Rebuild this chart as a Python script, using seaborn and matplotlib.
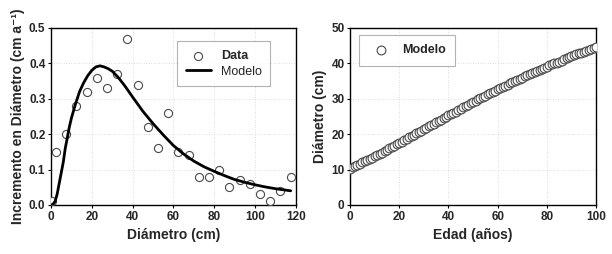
import matplotlib
matplotlib.use("Agg")
import matplotlib.pyplot as plt
import seaborn as sns
import pandas as pd

# ---- Data (left panel) ----
data_x = [0.5, 2.5, 7.5, 12.5, 17.5, 22.5, 27.5, 32.5, 37.5, 42.5, 47.5, 52.5, 57.5,
          62.5, 67.5, 72.5, 77.5, 82.5, 87.5, 92.5, 97.5, 102.5, 107.5, 112.5, 117.5]
data_y = [0.01, 0.15, 0.20, 0.28, 0.32, 0.36, 0.33, 0.37, 0.47, 0.34, 0.22, 0.16, 0.26,
          0.15, 0.14, 0.08, 0.08, 0.10, 0.05, 0.07, 0.06, 0.03, 0.01, 0.04, 0.08]

model_x = [0, 1, 2, 3, 4, 5, 6, 7, 8, 9, 10, 12, 14, 16, 18, 20, 22, 24, 26, 28, 30, 33, 36,
           40, 45, 50, 55, 60, 65, 70, 75, 80, 85, 90, 95, 100, 105, 110, 115, 117.5]
model_y = [0.0, 0.002, 0.01, 0.03, 0.06, 0.09, 0.12, 0.16, 0.19, 0.22, 0.245, 0.285, 0.32,
           0.345, 0.365, 0.38, 0.39, 0.393, 0.39, 0.385, 0.378, 0.36, 0.338, 0.305, 0.265,
           0.23, 0.198, 0.168, 0.144, 0.124, 0.108, 0.095, 0.083, 0.072, 0.064, 0.057,
           0.051, 0.046, 0.042, 0.040]

# ---- Data (right panel) ----
edad = list(range(0, 101))
diametro = [10.3, 10.6, 11.0, 11.3, 11.7, 12.0, 12.3, 12.7, 13.0, 13.4, 13.7,
            14.1, 14.5, 14.8, 15.2, 15.6, 16.0, 16.4, 16.7, 17.1, 17.5,
            17.9, 18.3, 18.7, 19.1, 19.5, 19.9, 20.2, 20.6, 21.0, 21.4,
            21.8, 22.2, 22.6, 23.0, 23.4, 23.8, 24.1, 24.5, 24.9, 25.3,
            25.7, 26.1, 26.4, 26.8, 27.2, 27.6, 28.0, 28.3, 28.7, 29.1,
            29.5, 29.8, 30.2, 30.5, 30.9, 31.3, 31.6, 32.0, 32.3, 32.7,
            33.0, 33.4, 33.7, 34.0, 34.4, 34.7, 35.0, 35.3, 35.7, 36.0,
            36.3, 36.6, 36.9, 37.2, 37.5, 37.9, 38.2, 38.5, 38.8, 39.1,
            39.4, 39.7, 40.0, 40.2, 40.5, 40.8, 41.1, 41.4, 41.7, 42.0,
            42.3, 42.5, 42.8, 43.0, 43.3, 43.5, 43.8, 44.0, 44.3, 44.5]

left_xticks = [0, 20, 40, 60, 80, 100, 120]
left_yticks = [0.0, 0.1, 0.2, 0.3, 0.4, 0.5]
right_xticks = [0, 20, 40, 60, 80, 100]
right_yticks = [0, 10, 20, 30, 40, 50]

sns.set_theme(style="white")
plt.rcParams['font.family'] = ['Liberation Sans', 'DejaVu Sans']

fig = plt.figure(figsize=(6.12, 2.54), dpi=100)
ax1 = fig.add_axes([0.0833, 0.193, 0.400, 0.697])
ax2 = fig.add_axes([0.572, 0.193, 0.402, 0.697])

df_data = pd.DataFrame({"x": data_x, "y": data_y})
df_model = pd.DataFrame({"x": model_x, "y": model_y})
df_right = pd.DataFrame({"edad": edad, "diametro": diametro})

sns.scatterplot(data=df_data, x="x", y="y", ax=ax1, marker="o", s=34,
                facecolor="white", edgecolor="#4a4a4a", linewidth=0.8,
                label="Data", zorder=3)
sns.lineplot(data=df_model, x="x", y="y", ax=ax1, color="black", linewidth=2.0,
             label="Modelo", zorder=4)

sns.scatterplot(data=df_right, x="edad", y="diametro", ax=ax2, marker="o", s=40,
                facecolor="white", edgecolor="#4a4a4a", linewidth=0.8,
                label="Modelo", zorder=3)

def style(ax, xt, yt, xlim, ylim, fmt):
    ax.set_xlim(*xlim)
    ax.set_ylim(*ylim)
    ax.set_xticks(xt)
    ax.set_yticks(yt)
    ax.set_xticklabels([str(v) for v in xt], fontsize=8.5, fontweight="bold")
    ax.set_yticklabels([fmt.format(v) for v in yt], fontsize=8.5, fontweight="bold")
    ax.grid(True, color="#d4d4d4", linestyle=(0, (1, 2)), linewidth=0.6)
    for sp in ax.spines.values():
        sp.set_color("black")
        sp.set_linewidth(1.0)
    ax.tick_params(axis="both", which="both", direction="out", length=2, width=0.8,
                   color="black", pad=2, bottom=True, left=True)
    ax.set_axisbelow(True)

style(ax1, left_xticks, left_yticks, (0, 120), (0, 0.5), "{:.1f}")
style(ax2, right_xticks, right_yticks, (0, 100), (0, 50), "{:d}")

lab = dict(fontsize=10, fontweight="bold")
ax1.set_xlabel("Diámetro (cm)", labelpad=4, **lab)
ax1.set_ylabel("Incremento en Diámetro (cm a\u207b\u00b9)", labelpad=3, **lab)
ax2.set_xlabel("Edad (años)", labelpad=4, **lab)
ax2.set_ylabel("Diámetro (cm)", labelpad=3, **lab)

leg1 = ax1.legend(loc="upper left", bbox_to_anchor=(0.515, 0.925), fontsize=9,
                  frameon=True, fancybox=False, edgecolor="#a0a0a0",
                  borderpad=0.7, handlelength=2.0, labelspacing=0.3,
                  handletextpad=0.8, borderaxespad=0)
leg1.get_frame().set_linewidth(0.8)
leg1.get_texts()[0].set_fontweight("bold")

leg2 = ax2.legend(loc="upper left", bbox_to_anchor=(0.036, 0.96), fontsize=9,
                  frameon=True, fancybox=False, edgecolor="#a0a0a0",
                  borderpad=0.75, handlelength=2.0, handletextpad=0.7,
                  borderaxespad=0)
leg2.get_frame().set_linewidth(0.8)
leg2.get_texts()[0].set_fontweight("bold")

fig.savefig("out.png", dpi=100)
